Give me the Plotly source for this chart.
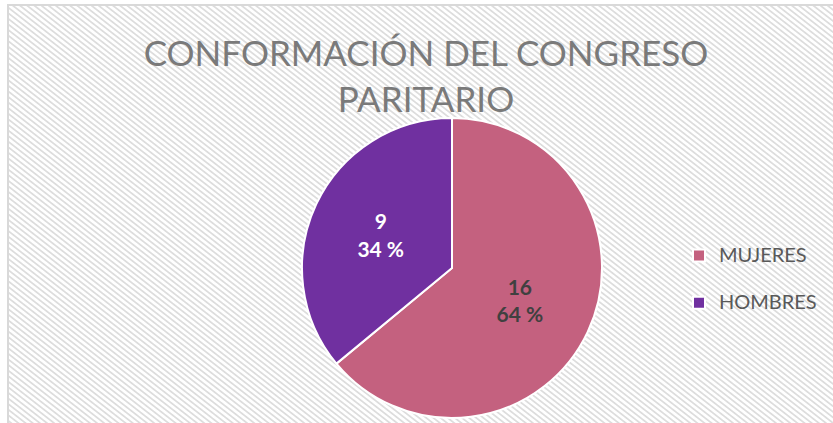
import base64
import plotly.graph_objects as go

# ---- data ----
categories = ["MUJERES", "HOMBRES"]
values = [16, 9]
percent_labels = ["64 %", "34 %"]
title_lines = ["CONFORMACIÓN DEL CONGRESO", "PARITARIO"]

# ---- styles ----
W, H = 833, 423
slice_colors = ["#C4617F", "#7030A0"]
label_colors = ["#404040", "#FFFFFF"]
FONT = "Lato"

# background hatch + frame (decoration) as an SVG image
svg = f'''<svg xmlns="http://www.w3.org/2000/svg" width="{W}" height="{H}" viewBox="0 0 {W} {H}">
<defs><pattern id="p" width="4.4" height="4.4" patternUnits="userSpaceOnUse" patternTransform="rotate(38)">
<rect x="0" y="0" width="4.4" height="2.1" fill="#DDDDDD" shape-rendering="crispEdges"/></pattern></defs>
<rect x="0" y="0" width="{W}" height="{H}" fill="#FFFFFF"/>
<rect x="8" y="5" width="{W}" height="{H}" fill="url(#p)"/>
<rect x="8" y="5" width="{W}" height="{H}" fill="none" stroke="#D9D9D9" stroke-width="2"/>
</svg>'''
src = "data:image/svg+xml;base64," + base64.b64encode(svg.encode()).decode()

legend_labels = [f'<span style="font-size:20px">{c}</span><br> ' for c in categories]

cx, cy, r = 452, 268, 150
fig = go.Figure(go.Pie(
    labels=legend_labels,
    values=values,
    customdata=percent_labels,
    sort=False,
    direction="clockwise",
    rotation=0,
    marker=dict(colors=slice_colors, line=dict(color="#FFFFFF", width=2)),
    texttemplate="<b>%{value}</b><br><b>%{customdata}</b>",
    textposition="inside",
    insidetextorientation="horizontal",
    textfont=dict(family=FONT, size=21, color=label_colors),
    hovertemplate="%{value}<extra></extra>",
    domain=dict(x=[(cx - r) / W, (cx + r) / W], y=[(H - cy - r) / H, (H - cy + r) / H]),
))

fig.update_layout(
    width=W, height=H,
    margin=dict(l=0, r=0, t=0, b=0),
    paper_bgcolor="rgba(0,0,0,0)",
    plot_bgcolor="rgba(0,0,0,0)",
    images=[dict(source=src, xref="paper", yref="paper", x=0, y=1, sizex=1, sizey=1,
                 xanchor="left", yanchor="top", sizing="stretch", layer="below")],
    title=dict(text="<br>".join(title_lines), x=426 / W, xanchor="center", y=1 - 66 / H,
               yanchor="top", yref="container", xref="container",
               font=dict(family=FONT, size=35, color="#7A7A7A")),
    legend=dict(x=679 / W, y=1 - 238 / H, xanchor="left", yanchor="top", valign="top",
                font=dict(family=FONT, size=17, color="#595959"),
                bgcolor="rgba(0,0,0,0)"),
    showlegend=True,
)

fig.write_html("out.html", config={"displayModeBar": False},
               post_script="document.body.style.margin='0';")
